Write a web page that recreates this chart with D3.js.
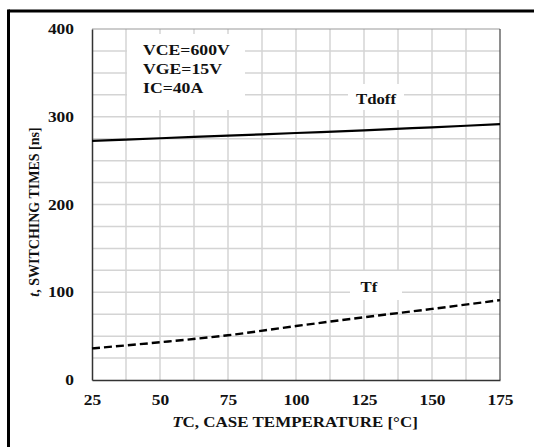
<!DOCTYPE html>
<html>
<head>
<meta charset="utf-8">
<script src="https://cdn.jsdelivr.net/npm/d3@7"></script>
<style>
  body { margin: 0; background: #fff; }
  text { font-family: "Liberation Serif", "Times New Roman", serif; font-weight: bold; fill: #111; }
</style>
</head>
<body>
<svg id="chart" width="534" height="447"></svg>
<script>
// case temperature (°C)
const temps = [25, 50, 75, 100, 125, 150, 175];
// switching times (ns)
const tdoff = [272.5, 275.5, 278.5, 281.5, 284.5, 288, 291.5];
const tf = [36, 43, 51, 61.5, 71.5, 81, 91];
const xTicks = [25, 50, 75, 100, 125, 150, 175];
const yTicks = [0, 100, 200, 300, 400];
const conditions = ["VCE=600V", "VGE=15V", "IC=40A"];

const svg = d3.select("#chart");
const margin = { left: 92, top: 29, right: 34, bottom: 67 };
const W = 534, H = 447;

const x = d3.scaleLinear().domain([25, 175]).range([margin.left, W - margin.right]);
const y = d3.scaleLinear().domain([0, 400]).range([H - margin.bottom, margin.top]);

// the source picture is stretched sideways, so widen text to match
function stretch(sel, k) {
  sel.each(function() {
    const len = this.getComputedTextLength();
    d3.select(this).attr("textLength", len * k).attr("lengthAdjust", "spacingAndGlyphs");
  });
}

// outer frame (only top and left show in the picture)
svg.append("line").attr("x1", 8.5).attr("x2", W).attr("y1", 11).attr("y2", 11)
  .attr("stroke", "#000").attr("stroke-width", 3);
svg.append("line").attr("x1", 8.5).attr("x2", 8.5).attr("y1", 9.5).attr("y2", H)
  .attr("stroke", "#000").attr("stroke-width", 3);

// grid
const grid = svg.append("g");
grid.selectAll(".gx").data(d3.range(25 + 12.5, 175, 12.5)).enter().append("line")
  .attr("x1", d => x(d)).attr("x2", d => x(d))
  .attr("y1", y(0)).attr("y2", y(400))
  .attr("stroke", "#d4d4d4").attr("stroke-width", 1.5);
grid.selectAll(".gy").data(d3.range(25, 400, 25)).enter().append("line")
  .attr("x1", x(25)).attr("x2", x(175))
  .attr("y1", d => y(d)).attr("y2", d => y(d))
  .attr("stroke", "#d4d4d4").attr("stroke-width", 1.5);

// plot frame
svg.append("line").attr("x1", x(25)).attr("x2", x(175)).attr("y1", y(400)).attr("y2", y(400))
  .attr("stroke", "#999").attr("stroke-width", 1);
svg.append("line").attr("x1", x(175)).attr("x2", x(175)).attr("y1", y(400)).attr("y2", y(0))
  .attr("stroke", "#444").attr("stroke-width", 1.2);

// white boxes behind labels
function blank(x0, y0, w, h) {
  svg.append("rect").attr("x", x0).attr("y", y0).attr("width", w).attr("height", h).attr("fill", "#fff");
}
blank(127, 34, 118, 76);
blank(348, 84, 56, 26);
blank(350, 271, 52, 29);

// axes
const xAxis = d3.axisBottom(x).tickValues(xTicks).tickSize(0).tickPadding(15);
const yAxis = d3.axisLeft(y).tickValues(yTicks).tickSize(0).tickPadding(18);

const gx = svg.append("g").attr("transform", `translate(0,${y(0)})`).call(xAxis);
const gy = svg.append("g").attr("transform", `translate(${x(25)},0)`).call(yAxis);
[gx, gy].forEach(g => {
  g.select(".domain").attr("stroke", "#333").attr("stroke-width", 1.5);
  g.selectAll("text").style("font-size", "14.5px").style("font-family", "Liberation Serif, serif")
    .style("font-weight", "bold").attr("fill", "#111").call(stretch, 1.2);
});

// curves
const line = d3.line().x(d => x(d[0])).y(d => y(d[1])).curve(d3.curveMonotoneX);
svg.append("path").datum(temps.map((t, i) => [t, tdoff[i]]))
  .attr("d", line).attr("fill", "none").attr("stroke", "#000").attr("stroke-width", 2.2);
svg.append("path").datum(temps.map((t, i) => [t, tf[i]]))
  .attr("d", line).attr("fill", "none").attr("stroke", "#000").attr("stroke-width", 2.4)
  .attr("stroke-dasharray", "8,4");

// labels
svg.append("text").attr("x", 376).attr("y", 104).attr("text-anchor", "middle")
  .style("font-size", "15px").text("Tdoff").call(stretch, 1.12);
svg.append("text").attr("x", 369).attr("y", 292).attr("text-anchor", "middle")
  .style("font-size", "15px").text("Tf").call(stretch, 1.12);

svg.append("g").selectAll("text").data(conditions).enter().append("text")
  .attr("x", 143).attr("y", (d, i) => 55 + i * 19)
  .style("font-size", "15px").text(d => d).call(stretch, 1.18);

// axis titles
const xt = svg.append("text").attr("x", 295).attr("y", 427)
  .attr("text-anchor", "middle").style("font-size", "14.5px");
xt.append("tspan").style("font-style", "italic").text("T");
xt.append("tspan").text("C, CASE TEMPERATURE [°C]");
xt.call(stretch, 1.17);

const yt = svg.append("text").attr("transform", "translate(39,212) rotate(-90)")
  .attr("text-anchor", "middle").style("font-size", "14px");
yt.append("tspan").style("font-style", "italic").text("t");
yt.append("tspan").text(", SWITCHING TIMES [ns]");
</script>
</body>
</html>
